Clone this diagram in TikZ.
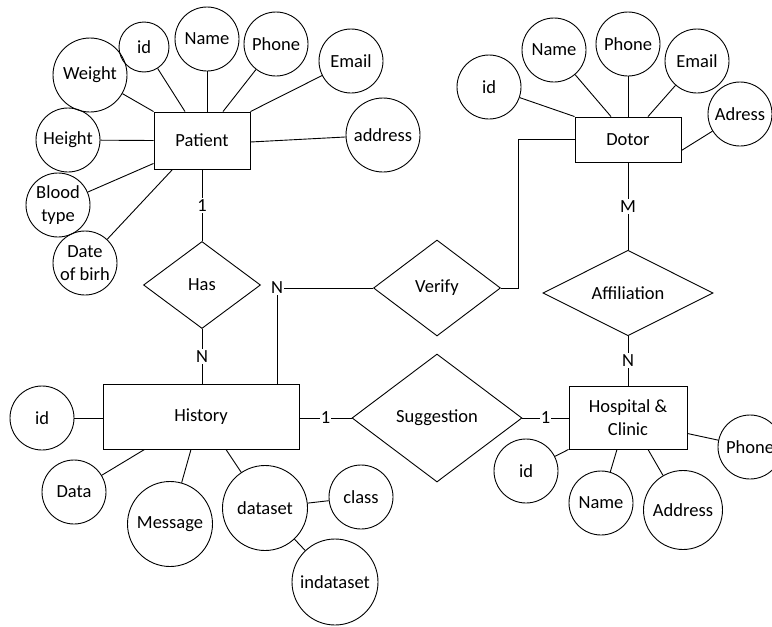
\documentclass[tikz,border=0pt]{standalone}
\usepackage{fontspec}
\setmainfont{Carlito}
\usetikzlibrary{shapes.geometric}
\begin{document}
\begin{tikzpicture}[x=1pt,y=-1pt,
  every node/.style={font=\fontsize{18.5}{23}\selectfont},
  ent/.style={draw, rectangle, line width=0.9pt, inner sep=0pt, align=center},
  attr/.style={draw, circle, line width=0.9pt, inner sep=0pt, align=center, minimum size=64pt},
  rel/.style={draw, diamond, line width=0.9pt, inner sep=0pt},
  conn/.style={draw, line width=0.9pt},
  lbl/.style={fill=white, inner sep=1.5pt}]
\clip (0,0) rectangle (772,627);
\fill[white] (0,0) rectangle (772,627);

% ---------- entities ----------
\node[ent, minimum width=96pt, minimum height=57pt] (pat) at (202,140.5) {Patient};
\node[ent, minimum width=106pt, minimum height=45pt] (doc) at (628,139.5) {Dotor};
\node[ent, minimum width=196pt, minimum height=65pt] (his) at (201,416.5) {History};
\node[ent, minimum width=118pt, minimum height=63pt] (hos) at (628,417.5) {Hospital \&\\Clinic};

% ---------- relationships ----------
\node[rel, minimum width=117pt, minimum height=87pt] (has) at (202,285) {Has};
\node[rel, minimum width=127pt, minimum height=96pt] (ver) at (437,288) {Verify};
\node[rel, minimum width=170pt, minimum height=84pt] (aff) at (628,293) {Affiliation};
\node[rel, minimum width=170pt, minimum height=128pt] (sug) at (437,418) {Suggestion};

% ---------- patient attributes ----------
\node[attr, minimum size=50pt] (pid) at (144,47) {id};
\node[attr] (pname) at (207,39) {Name};
\node[attr] (pphone) at (276,44) {Phone};
\node[attr] (pemail) at (351,61) {Email};
\node[attr, minimum size=74pt] (paddr) at (383,135) {address};
\node[attr, minimum size=74pt] (pweight) at (90,75) {Weight};
\node[attr] (pheight) at (68,140) {Height};
\node[attr] (pblood) at (58,205) {Blood\\type};
\node[attr] (pdob) at (85,263) {Date\\of birh};

\draw[conn] (pweight) -- (pat.north west);
\draw[conn] (pid) -- ([xshift=-17pt]pat.north);
\draw[conn] (pname) -- (pat.north -| pname);
\draw[conn] (pphone) -- ([xshift=21pt]pat.north);
\draw[conn] (pemail) -- (pat.north east);
\draw[conn] ([yshift=-1.5pt]pat.east) -- (paddr);
\draw[conn] (pheight) -- (pat.west);
\draw[conn] (pblood) -- ([yshift=6pt]pat.south west);
\draw[conn] (pdob) -- ([xshift=19pt]pat.south west);

% ---------- doctor attributes ----------
\node[attr] (did) at (489,87) {id};
\node[attr] (dname) at (554,50) {Name};
\node[attr] (dphone) at (628,44) {Phone};
\node[attr] (demail) at (697,61) {Email};
\node[attr] (dadr) at (740,114) {Adress};

\draw[conn] (did) -- (doc.north west);
\draw[conn] (dname) -- ([xshift=-17pt]doc.north);
\draw[conn] (dphone) -- (doc.north);
\draw[conn] (demail) -- ([xshift=20pt]doc.north);
\draw[conn] (dadr) -- ([yshift=-11pt]doc.east);

% ---------- history attributes ----------
\node[attr] (hid) at (42,418) {id};
\node[attr] (hdata) at (74,492) {Data};
\node[attr, minimum size=85pt] (hmsg) at (170,524) {Message};
\node[attr, minimum size=85pt] (hds) at (265,508) {dataset};
\node[attr] (hclass) at (361,497) {class};
\node[attr, minimum size=86pt] (hind) at (335,582) {indataset};

\draw[conn] (hid) -- (his.west |- hid);
\draw[conn] (hdata) -- ([xshift=42pt]his.south west);
\draw[conn] (hmsg) -- ([xshift=-10pt]his.south);
\draw[conn] (hds) -- ([xshift=25pt]his.south);
\draw[conn] (hds) -- (hclass);
\draw[conn] (hds) -- (hind);

% ---------- hospital attributes ----------
\node[attr] (oid) at (526,471) {id};
\node[attr] (oname) at (601,503) {Name};
\node[attr, minimum size=79pt] (oaddr) at (683,510) {Address};
\node[attr] (ophone) at (750,447) {Phone};

\draw[conn] (oid) -- (hos.south west);
\draw[conn] (oname) -- ([xshift=-11pt]hos.south);
\draw[conn] (oaddr) -- ([xshift=20pt]hos.south);
\draw[conn] (ophone) -- ([yshift=-16pt]hos.east);

% ---------- relationship connectors ----------
\draw[conn] (pat.south) -- node[lbl] {1} (has.north);
\draw[conn] (has.south) -- node[lbl] {N} (his.north -| has.south);
\draw[conn] ([xshift=76pt]his.north) |- node[lbl, pos=0.5] {N} (ver.west);
\draw[conn] (ver.east) -- ++(17,0) |- (doc.west);
\draw[conn] (doc.south) -- node[lbl] {M} (aff.north);
\draw[conn] (aff.south) -- node[lbl] {N} (hos.north);
\draw[conn] (his.east |- sug.west) -- node[lbl, inner sep=0.5pt] {1} (sug.west);
\draw[conn] (sug.east) -- node[lbl, inner sep=0.5pt] {1} (hos.west |- sug.east);
\end{tikzpicture}
\end{document}
